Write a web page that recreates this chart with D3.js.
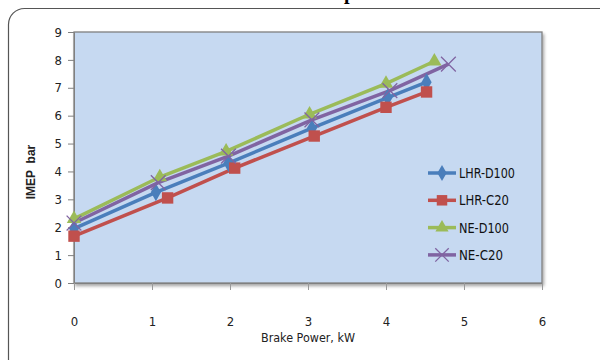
<!DOCTYPE html>
<html>
<head>
<meta charset="utf-8">
<script src="https://cdn.jsdelivr.net/npm/d3@7"></script>
<style>
  body { margin: 0; background: #fff; }
  text { font-family: "Liberation Sans Narrow", "Arial Narrow", "DejaVu Sans", sans-serif; font-stretch: condensed; }
</style>
</head>
<body>
<script>
// Data
const seriesNames = ["LHR-D100", "LHR-C20", "NE-D100", "NE-C20"];
const lhrD100X = [0, 1.05, 1.98, 3.05, 4.02, 4.52];
const lhrD100Y = [1.95, 3.25, 4.3, 5.55, 6.65, 7.2];
const lhrC20X = [0, 1.2, 2.06, 3.08, 4.0, 4.52];
const lhrC20Y = [1.68, 3.05, 4.12, 5.27, 6.3, 6.85];
const neD100X = [0, 1.1, 1.95, 3.02, 4.0, 4.62];
const neD100Y = [2.3, 3.8, 4.72, 6.05, 7.15, 7.95];
const neC20X = [0, 1.08, 1.98, 3.05, 4.05, 4.8];
const neC20Y = [2.15, 3.6, 4.55, 5.85, 6.9, 7.85];
const xTicks = [0, 1, 2, 3, 4, 5, 6];
const yTicks = [0, 1, 2, 3, 4, 5, 6, 7, 8, 9];

const colors = ["#4A7EBB", "#C0504D", "#9BBB59", "#8064A2"];
const shapes = ["diamond", "square", "triangle", "cross"];

const series = [
  { name: seriesNames[0], xs: lhrD100X, ys: lhrD100Y },
  { name: seriesNames[1], xs: lhrC20X, ys: lhrC20Y },
  { name: seriesNames[2], xs: neD100X, ys: neD100Y },
  { name: seriesNames[3], xs: neC20X, ys: neC20Y }
].map((s, i) => ({ ...s, color: colors[i], shape: shapes[i],
  points: s.xs.map((x, j) => ({ x: x, y: s.ys[j] })) }));

const W = 600, H = 360;
const margin = { top: 32, right: 58, bottom: 77, left: 74 };
const width = W - margin.left - margin.right,
      height = H - margin.top - margin.bottom;

const svg = d3.select("body").append("svg")
  .attr("width", W).attr("height", H);

// outer rounded frame (runs off the right and bottom)
svg.append("rect")
  .attr("x", 8.5).attr("y", 8.5)
  .attr("width", 610).attr("height", 400)
  .attr("rx", 16)
  .attr("fill", "none").attr("stroke", "#555").attr("stroke-width", 1.2);

// clipped title fragment at the very top
svg.append("text")
  .attr("x", 344).attr("y", -1)
  .style("font-family", "Liberation Serif, serif")
  .style("font-stretch", "normal")
  .style("font-weight", "bold").style("font-size", "20px")
  .text("p");

const g = svg.append("g").attr("transform", `translate(${margin.left},${margin.top})`);

const x = d3.scaleLinear().domain([0, 6]).range([0, width]);
const y = d3.scaleLinear().domain([0, 9]).range([height, 0]);

// plot area with a soft shadow
const defs = svg.append("defs");
const f = defs.append("filter").attr("id", "shadow").attr("x", "-5%").attr("y", "-5%")
  .attr("width", "115%").attr("height", "115%");
f.append("feDropShadow").attr("dx", 1.5).attr("dy", 2.5).attr("stdDeviation", 1.5)
  .attr("flood-color", "#000").attr("flood-opacity", 0.35);

g.append("rect")
  .attr("width", width).attr("height", height)
  .attr("fill", "#C6D9F1")
  .attr("stroke", "#808080").attr("stroke-width", 1.3)
  .attr("filter", "url(#shadow)");

// y axis
const yAxis = g.append("g")
  .call(d3.axisLeft(y).tickValues(yTicks).tickFormat(d3.format("d")).tickSize(6).tickPadding(6));
yAxis.select(".domain").attr("stroke", "#808080");
yAxis.selectAll(".tick line").attr("stroke", "#808080");
yAxis.selectAll(".tick text").style("font-size", "13px").attr("fill", "#222");

// x axis
const xAxis = g.append("g").attr("transform", `translate(0,${height})`)
  .call(d3.axisBottom(x).tickValues(xTicks).tickFormat(d3.format("d")).tickSize(7).tickPadding(27));
xAxis.select(".domain").attr("stroke", "#808080");
xAxis.selectAll(".tick line").attr("stroke", "#999");
xAxis.selectAll(".tick text").style("font-size", "13px").attr("fill", "#222");

// axis titles
svg.append("text")
  .attr("x", margin.left + width / 2).attr("y", 342)
  .attr("text-anchor", "middle")
  .attr("textLength", 94).attr("lengthAdjust", "spacingAndGlyphs")
  .style("font-size", "13px").attr("fill", "#222")
  .text("Brake Power, kW");

svg.append("text")
  .attr("transform", `translate(35,172) rotate(-90)`)
  .attr("text-anchor", "middle")
  .style("font-family", "Liberation Sans, Arial, sans-serif")
  .style("font-stretch", "normal")
  .style("font-weight", "bold").style("font-size", "12px").attr("fill", "#222")
  .attr("xml:space", "preserve")
  .text("IMEP  bar");

// markers
function marker(sel, shape, color, size) {
  if (shape === "cross") {
    sel.append("path")
      .attr("d", d3.symbol(d3.symbolTimes, size * 1.6)())
      .attr("fill", "none").attr("stroke", color).attr("stroke-width", 1.3);
  } else {
    const t = shape === "diamond" ? d3.symbolDiamond
      : shape === "square" ? d3.symbolSquare : d3.symbolTriangle;
    sel.append("path")
      .attr("d", d3.symbol(t, size)())
      .attr("fill", color);
  }
}

const line = d3.line().x(d => x(d.x)).y(d => y(d.y));

series.forEach(s => {
  g.append("path")
    .datum(s.points)
    .attr("fill", "none")
    .attr("stroke", s.color)
    .attr("stroke-width", 3.5)
    .attr("d", line);
});

series.forEach(s => {
  s.points.forEach(p => {
    const m = g.append("g").attr("transform", `translate(${x(p.x)},${y(p.y)})`);
    marker(m, s.shape, s.color, s.shape === "square" ? 130 : 90);
  });
});

// legend
const legendWidths = [56, 50, 50, 44];
const legend = svg.append("g").attr("transform", "translate(428,173)");
series.forEach((s, i) => {
  const it = legend.append("g").attr("transform", `translate(0,${i * 27.3})`);
  it.append("line").attr("x1", 0).attr("x2", 28)
    .attr("stroke", s.color).attr("stroke-width", 3.5);
  const m = it.append("g").attr("transform", "translate(14,0)");
  marker(m, s.shape, s.color, s.shape === "square" ? 110 : 75);
  it.append("text").attr("x", 31).attr("y", 5)
    .attr("textLength", legendWidths[i]).attr("lengthAdjust", "spacingAndGlyphs")
    .style("font-size", "14px").attr("fill", "#111")
    .text(s.name);
});
</script>
</body>
</html>
